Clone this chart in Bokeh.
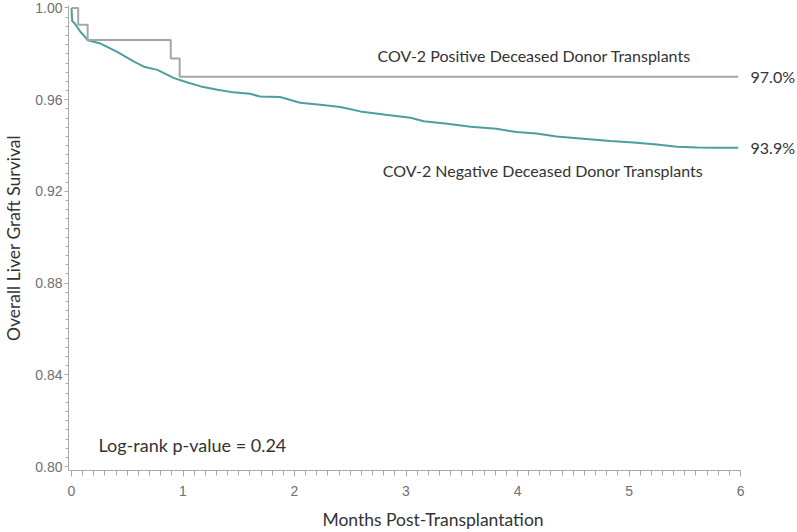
from bokeh.plotting import figure
from bokeh.models import SingleIntervalTicker, Range1d, Label, CustomJSTickFormatter
from bokeh.embed import file_html
from bokeh.resources import INLINE

# ---- data ----
neg_months = [0.0, 0.006, 0.027, 0.051, 0.081, 0.110, 0.146, 0.260, 0.41, 0.56,
              0.65, 0.77, 0.92, 1.04, 1.16, 1.31, 1.45, 1.60, 1.69, 1.87,
              2.05, 2.23, 2.41, 2.59, 2.80, 3.04, 3.16, 3.37, 3.58, 3.81,
              3.99, 4.17, 4.35, 4.59, 4.83, 5.04, 5.25, 5.43, 5.61, 5.79, 5.98]
neg_surv = [1.0, 0.9943, 0.9934, 0.9917, 0.9895, 0.9881, 0.9859, 0.9845, 0.9809, 0.9766,
            0.9744, 0.9730, 0.9694, 0.9675, 0.9658, 0.9643, 0.9632, 0.9626, 0.9614, 0.9612,
            0.9587, 0.9578, 0.9568, 0.9549, 0.9535, 0.9521, 0.9506, 0.9495, 0.9482, 0.9473,
            0.9459, 0.9453, 0.9439, 0.9430, 0.9420, 0.9413, 0.9405, 0.9395, 0.9392, 0.9390, 0.9390]

pos_months = [0.0, 0.06, 0.145, 0.89, 0.97, 5.98]
pos_surv = [1.0, 0.9927, 0.9860, 0.9780, 0.9700, 0.9700]

pos_name = "COV-2 Positive Deceased Donor Transplants"
neg_name = "COV-2 Negative Deceased Donor Transplants"
pvalue_text = "Log-rank p-value = 0.24"
x_title = "Months Post-Transplantation"
y_title = "Overall Liver Graft Survival"

TEXT_FONT = "Lato"
TICK_FONT = "Liberation Sans"

p = figure(width=797, height=532, output_backend="svg", toolbar_location=None,
           x_range=Range1d(-0.027, 6.511), y_range=Range1d(0.79826, 1.00109),
           min_border_left=68, min_border_right=0, min_border_top=5, min_border_bottom=61)
p.outline_line_color = None
p.grid.visible = False
p.background_fill_color = "white"
p.border_fill_color = "white"

p.line(neg_months, neg_surv, line_color="#4E9E9F", line_width=2)
p.step(pos_months, pos_surv, mode="after", line_color="#A6A6A6", line_width=2)

# axes
p.xaxis.ticker = SingleIntervalTicker(interval=1, num_minor_ticks=10)
p.yaxis.ticker = SingleIntervalTicker(interval=0.04, num_minor_ticks=10)
p.yaxis.formatter = CustomJSTickFormatter(code="return tick.toFixed(2);")
p.xaxis.bounds = (-0.027, 6.0)

for ax in (p.xaxis[0], p.yaxis[0]):
    ax.axis_line_color = "#A9A9A9"
    ax.major_tick_line_color = "#A9A9A9"
    ax.minor_tick_line_color = "#A9A9A9"
    ax.major_tick_in = 0
    ax.minor_tick_in = 0
    ax.major_label_text_font = TICK_FONT
    ax.major_label_text_font_size = "14px"
    ax.major_label_text_color = "#707070"
    ax.axis_label_text_font = TEXT_FONT
    ax.axis_label_text_font_style = "normal"
    ax.axis_label_text_font_size = "17.5px"
    ax.axis_label_text_color = "#333333"

p.xaxis.major_tick_out = 6
p.xaxis.minor_tick_out = 5
p.xaxis.major_label_standoff = 9
p.xaxis.axis_label = x_title
p.xaxis.axis_label_standoff = 10

p.yaxis.major_tick_out = 4
p.yaxis.minor_tick_out = 3
p.yaxis.major_label_standoff = 2
p.yaxis.axis_label = y_title
p.yaxis.axis_label_standoff = 8

# annotations
def add_label(x, y, text, size, align="left", baseline="middle", color="#333333"):
    p.add_layout(Label(x=x, y=y, text=text, text_font=TEXT_FONT, text_font_size=size,
                       text_color=color, text_align=align, text_baseline=baseline))

add_label(4.15, 0.9793, pos_name, "16px", align="center")
add_label(4.23, 0.9293, neg_name, "16px", align="center")
add_label(6.09, pos_surv[-1], f"{pos_surv[-1]*100:.1f}%", "16px")
add_label(6.09, neg_surv[-1], f"{neg_surv[-1]*100:.1f}%", "16px")
add_label(0.242, 0.8096, pvalue_text, "18px")

open("out.html", "w").write(file_html(p, INLINE))
